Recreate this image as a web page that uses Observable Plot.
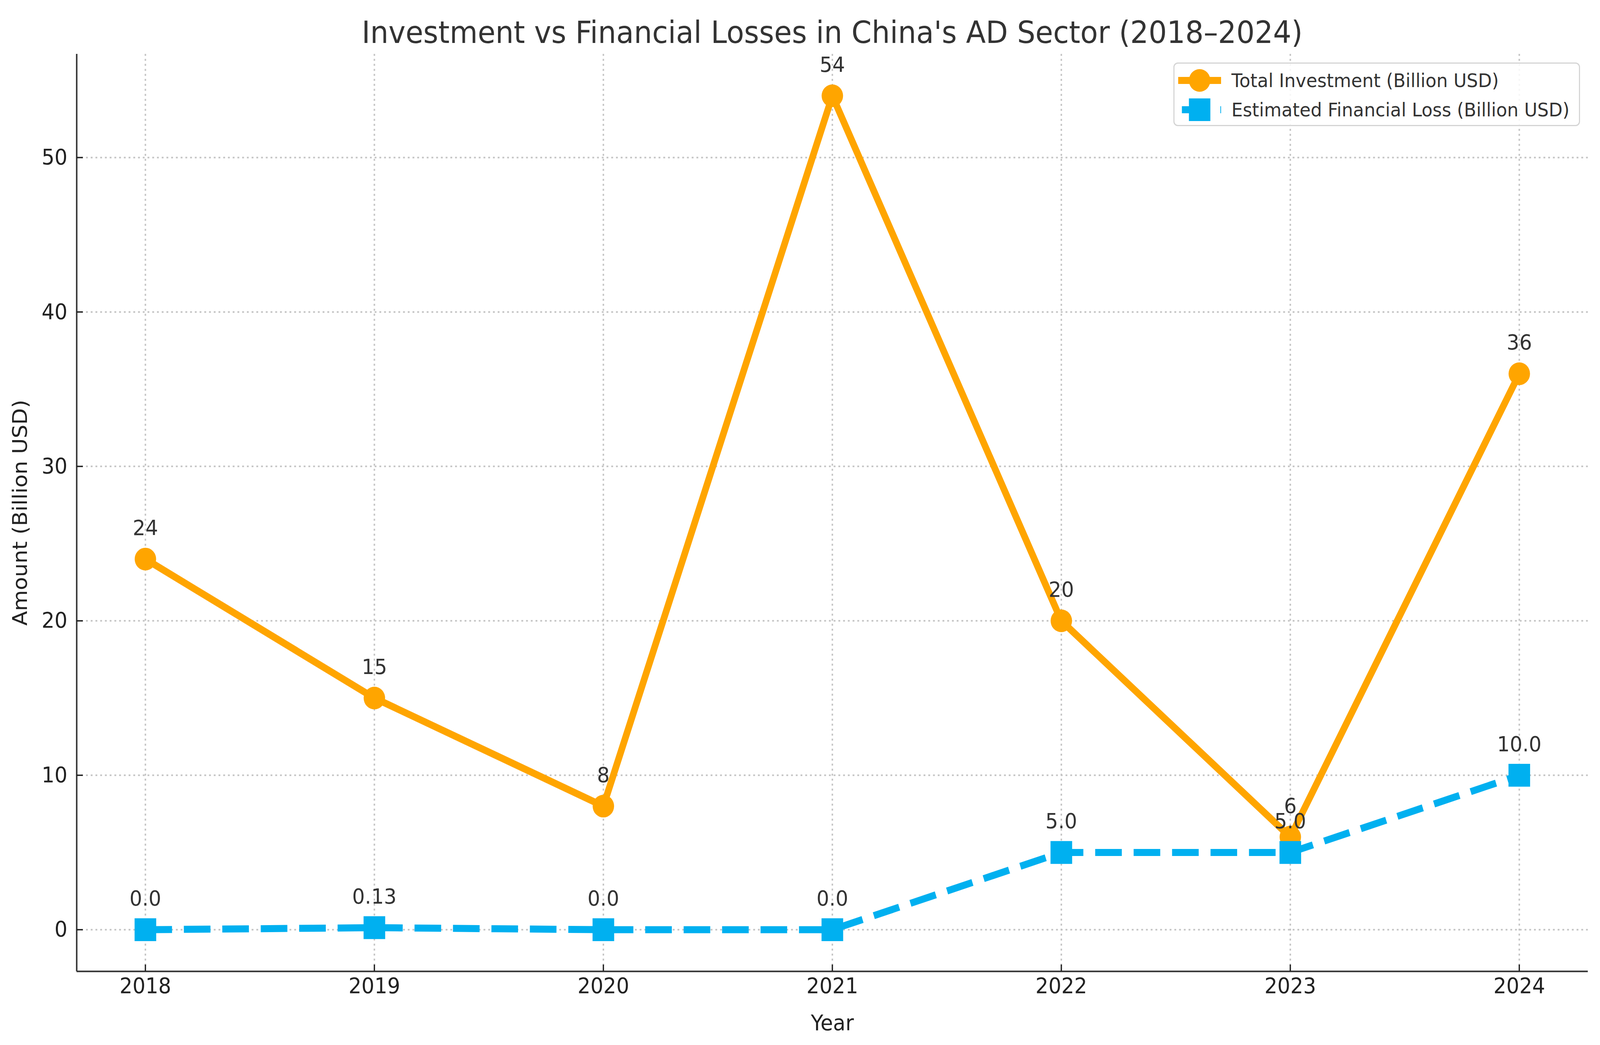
<!DOCTYPE html>
<html><head><meta charset="utf-8">
<script src="https://cdn.jsdelivr.net/npm/d3@7"></script>
<script src="https://cdn.jsdelivr.net/npm/@observablehq/plot@0.6"></script>
<style>
html,body{margin:0;padding:0;background:#fff;font-family:"DejaVu Sans",sans-serif;overflow:hidden;}
#wrap{position:relative;width:4328px;height:2676px;overflow:hidden;transform-origin:0 0;}
#title{box-sizing:border-box;height:123px;padding-top:43px;padding-left:207px;padding-right:33px;line-height:80px;text-align:center;font-size:78px;color:#333;white-space:nowrap;}
#legend{position:absolute;left:3174px;top:160px;width:1100px;height:163px;box-sizing:border-box;border:3px solid #d4d4d4;border-radius:12px;background:rgba(255,255,255,0.85);}
.row{position:absolute;left:0;height:70px;width:100%;}
.row svg{position:absolute;left:8px;top:0;}
.row span{position:absolute;left:154px;top:0;line-height:70px;font-size:48.5px;color:#333;white-space:nowrap;}
</style></head>
<body>
<div id="wrap">
<div id="title"></div>
<div id="chart"></div>
<div id="legend"></div>
</div>
<script>
const years = [2018, 2019, 2020, 2021, 2022, 2023, 2024];
const investment = [24, 15, 8, 54, 20, 6, 36];
const losses = [0.0, 0.13, 0.0, 0.0, 5.0, 5.0, 10.0];
const yTicks = [0, 10, 20, 30, 40, 50];
const seriesNames = ["Total Investment (Billion USD)", "Estimated Financial Loss (Billion USD)"];
const seriesColors = ["#FFA500", "#00B0F0"];
const titleText = "Investment vs Financial Losses in China's AD Sector (2018–2024)";
const xLabel = "Year";
const yLabel = "Amount (Billion USD)";

document.getElementById("title").textContent = titleText;

const inv = years.map((y, i) => ({year: y, value: investment[i]}));
const loss = years.map((y, i) => ({year: y, value: losses[i]}));

const yMin = Math.min(0, d3.min(losses)), yMax = d3.max(investment);
const yPad = (yMax - yMin) * 0.05;
const yDomain = [yMin - yPad, yMax + yPad];
const xPad = (d3.max(years) - d3.min(years)) * 0.05;
const xDomain = [d3.min(years) - xPad, d3.max(years) + xPad];

const gridStyle = {stroke: "#c4c4c4", strokeWidth: 4, strokeDasharray: "5,7.8"};
const spine = {stroke: "#333", strokeWidth: 4};
const fmtLoss = v => Number.isInteger(v) ? v.toFixed(1) : String(v);

const plot = Plot.plot({
  width: 4328,
  height: 2553,
  marginLeft: 207,
  marginRight: 33,
  marginTop: 15,
  marginBottom: 189,
  style: {fontFamily: "DejaVu Sans", fontSize: "55px", color: "#222", background: "transparent", maxWidth: "none"},
  x: {domain: xDomain},
  y: {domain: yDomain},
  marks: [
    Plot.ruleY(yTicks, gridStyle),
    Plot.ruleX(years, gridStyle),
    Plot.ruleX([xDomain[0]], spine),
    Plot.ruleY([yDomain[0]], spine),
    Plot.axisX(years, {tickSize: -17, strokeWidth: 3.5, tickFormat: () => "", label: null}),
    Plot.axisY(yTicks, {tickSize: -17, strokeWidth: 3.5, tickFormat: () => "", label: null}),
    Plot.axisX(years, {tickSize: 0, tickPadding: 16, tickFormat: "d", fontSize: 55, label: xLabel, labelAnchor: "center", labelOffset: 150, labelArrow: "none"}),
    Plot.axisY(yTicks, {tickSize: 0, tickPadding: 25, fontSize: 55, label: yLabel, labelAnchor: "center", labelOffset: 174, labelArrow: "none"}),
    Plot.line(inv, {x: "year", y: "value", stroke: seriesColors[0], strokeWidth: 18}),
    Plot.dot(inv, {x: "year", y: "value", r: 29, fill: seriesColors[0]}),
    Plot.line(loss, {x: "year", y: "value", stroke: seriesColors[1], strokeWidth: 18, strokeDasharray: "72,32", strokeLinecap: "butt"}),
    Plot.dot(loss, {x: "year", y: "value", r: 33, symbol: "square", fill: seriesColors[1]}),
    Plot.text(inv, {x: "year", y: "value", text: d => String(d.value), dy: -79, fontSize: 54, fill: "#333"}),
    Plot.text(loss, {x: "year", y: "value", text: d => fmtLoss(d.value), dy: -79, fontSize: 54, fill: "#333"})
  ]
});
document.getElementById("chart").appendChild(plot);

// legend
const legend = document.getElementById("legend");
const rowTops = [8, 83];
seriesNames.forEach((name, i) => {
  const row = document.createElement("div");
  row.className = "row";
  row.style.top = rowTops[i] + "px";
  const c = seriesColors[i];
  const marker = i === 0
    ? `<circle cx="60" cy="35" r="29" fill="${c}"/>`
    : `<rect x="31" y="6" width="58" height="58" fill="${c}"/>`;
  const lineEl = i === 0
    ? `<line x1="2" y1="35" x2="118" y2="35" stroke="${c}" stroke-width="18"/>`
    : `<line x1="2" y1="35" x2="118" y2="35" stroke="${c}" stroke-width="18" stroke-dasharray="72,32" stroke-dashoffset="-10"/>`;
  row.innerHTML = `<svg width="130" height="70">${lineEl}${marker}</svg><span>${name}</span>`;
  legend.appendChild(row);
});

// fit the fixed-size 4328x2676 figure to the actual viewport
const wrap = document.getElementById("wrap");
const sx = window.innerWidth / 4328, sy = window.innerHeight / 2676;
if (sx > 0 && sy > 0 && (Math.abs(sx - 1) > 0.001 || Math.abs(sy - 1) > 0.001)) {
  wrap.style.transform = `scale(${sx}, ${sy})`;
}
</script>
</body></html>
